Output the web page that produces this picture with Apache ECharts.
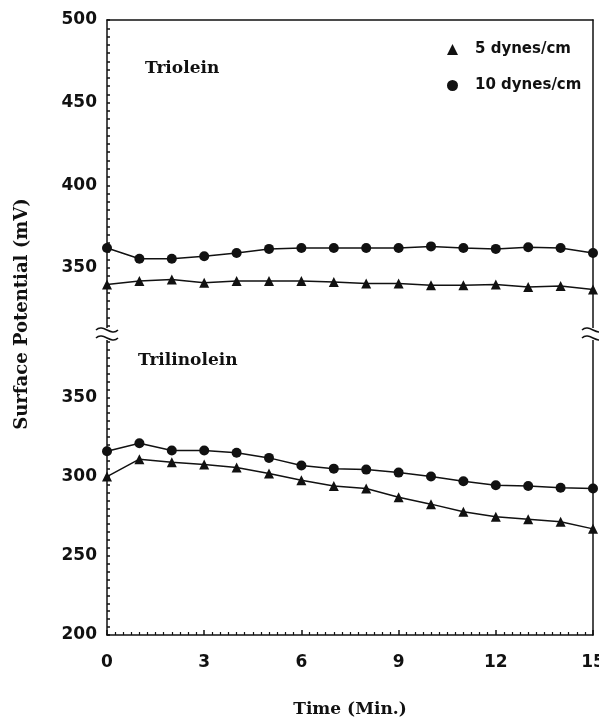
<!DOCTYPE html>
<html><head><meta charset="utf-8">
<script src="https://cdn.jsdelivr.net/npm/echarts@6/dist/echarts.min.js"></script>
<style>html,body{margin:0;padding:0;background:#fff}#c{width:599px;height:725px}</style>
</head><body><div id="c"></div>
<script>
const time = [0,1,2,3,4,5,6,7,8,9,10,11,12,13,14,15];
const xTickLabels = [0,3,6,9,12,15];
const yTopTickLabels = [350,400,450,500];
const yBottomTickLabels = [200,250,300,350];
const seriesNames = ['5 dynes/cm','10 dynes/cm'];
// Triolein (upper panel)
const triolein5  = [340,342,343,341,342,342,342,341.5,340.5,340.5,339.5,339.5,340,338.5,339,337];
const triolein10 = [362,355.5,355.5,357,359,361.5,362,362,362,362,363,362,361.5,362.5,362,359];
// Trilinolein (lower panel)
const trilinolein5  = [300,311,309,307.7,305.7,302,297.7,294,292.5,287,282.6,277.8,274.6,273,271.5,267];
const trilinolein10 = [316,321,316.5,316.5,315,311.8,307,305,304.4,302.5,300,297,294.5,294,293,292.5];

const chart = echarts.init(document.getElementById('c'), null, {renderer:'canvas'});
const tickFont = {fontFamily:'DejaVu Sans', fontWeight:'bold', fontSize:17, color:'#111'};
const L = 107, R = 6, TOP = 20, BRK = 334, BOT = 90;
function pairs(v){ return time.map((t,i)=>[t,v[i]]); }
function yAx(grid, min, max, labels){
  return {type:'value', gridIndex:grid, min:min, max:max, interval:5,
    axisLine:{show:true, lineStyle:{color:'#111', width:1.5}},
    axisTick:{show:true, inside:true, length:3, lineStyle:{color:'#111', width:1.5}},
    axisLabel:Object.assign({margin:10, formatter:v=>labels.indexOf(v)>=0?String(v):''}, tickFont),
    splitLine:{show:false}};
}
function yRight(grid, min, max){
  return {type:'value', gridIndex:grid, min:min, max:max, position:'right',
    axisLine:{show:true, lineStyle:{color:'#111', width:1.5}},
    axisTick:{show:false}, axisLabel:{show:false}, splitLine:{show:false}};
}
function lineSeries(name, data, xi, yi, sym){
  return {type:'line', name:name, data:pairs(data), xAxisIndex:xi, yAxisIndex:yi,
    symbol:sym, symbolSize:10, showSymbol:true,
    lineStyle:{color:'#111', width:1.5}, itemStyle:{color:'#111'}, silent:true, animation:false};
}
const breakMarks = [];
[L, 599-R].forEach(x=>{
  breakMarks.push({type:'rect', shape:{x:x-3, y:BRK-6, width:6, height:12}, style:{fill:'#fff'}, z:100});
  [-4,4].forEach(dy=>{
    breakMarks.push({type:'bezierCurve', shape:{x1:x-11, y1:BRK+dy, x2:x+11, y2:BRK+dy, cpx1:x-4, cpy1:BRK+dy-7, cpx2:x+4, cpy2:BRK+dy+7},
      style:{stroke:'#111', lineWidth:1.5, fill:null}, z:101});
  });
});
chart.setOption({
  animation:false,
  backgroundColor:'#fff',
  grid:[
    {left:L, right:R, top:TOP, height:BRK-TOP, outerBoundsMode:'none', containLabel:false},
    {left:L, right:R, top:BRK, bottom:BOT, outerBoundsMode:'none', containLabel:false}
  ],
  xAxis:[
    {type:'value', gridIndex:0, min:0, max:15, position:'top',
      axisLine:{show:true, lineStyle:{color:'#111', width:1.5}}, axisTick:{show:false}, axisLabel:{show:false}, splitLine:{show:false}},
    {type:'value', gridIndex:1, min:0, max:15, interval:3,
      axisLine:{show:true, lineStyle:{color:'#111', width:1.5}},
      axisTick:{show:true, inside:true, length:5, lineStyle:{color:'#111', width:1.5}},
      minorTick:{show:true, splitNumber:12, length:3, lineStyle:{color:'#111', width:1.2}},
      axisLabel:Object.assign({margin:19, formatter:v=>xTickLabels.indexOf(v)>=0?String(v):''}, tickFont),
      splitLine:{show:false},
      name:'Time (Min.)', nameLocation:'middle', nameGap:66,
      nameTextStyle:{fontFamily:'DejaVu Serif', fontWeight:'bold', fontSize:17, color:'#111'}}
  ],
  yAxis:[
    yAx(0, 310, 500, yTopTickLabels),
    yAx(1, 200, 390, yBottomTickLabels),
    yRight(0, 310, 500),
    yRight(1, 200, 390)
  ],
  legend:{orient:'vertical', left:442, top:37, itemWidth:11, itemHeight:11, itemGap:21,
    data:[{name:seriesNames[0], icon:'triangle'},{name:seriesNames[1], icon:'circle'}],
    textStyle:{fontFamily:'DejaVu Sans', fontWeight:'bold', fontSize:15, color:'#111', padding:[0,0,0,12]},
    itemStyle:{color:'#111'}, selectedMode:false},
  series:[
    lineSeries(seriesNames[0], triolein5, 0, 0, 'triangle'),
    lineSeries(seriesNames[1], triolein10, 0, 0, 'circle'),
    lineSeries(seriesNames[0], trilinolein5, 1, 1, 'triangle'),
    lineSeries(seriesNames[1], trilinolein10, 1, 1, 'circle')
  ],
  graphic:[
    {type:'text', left:145, top:60, style:{text:'Triolein', font:'bold 17px "DejaVu Serif"', fill:'#111'}},
    {type:'text', left:138, top:352, style:{text:'Trilinolein', font:'bold 17px "DejaVu Serif"', fill:'#111'}},
    {type:'text', x:22, y:314, rotation:Math.PI/2, style:{text:'Surface Potential (mV)', font:'bold 18px "DejaVu Serif"', fill:'#111', align:'center', verticalAlign:'middle'}}
  ].concat(breakMarks)
});
</script></body></html>
